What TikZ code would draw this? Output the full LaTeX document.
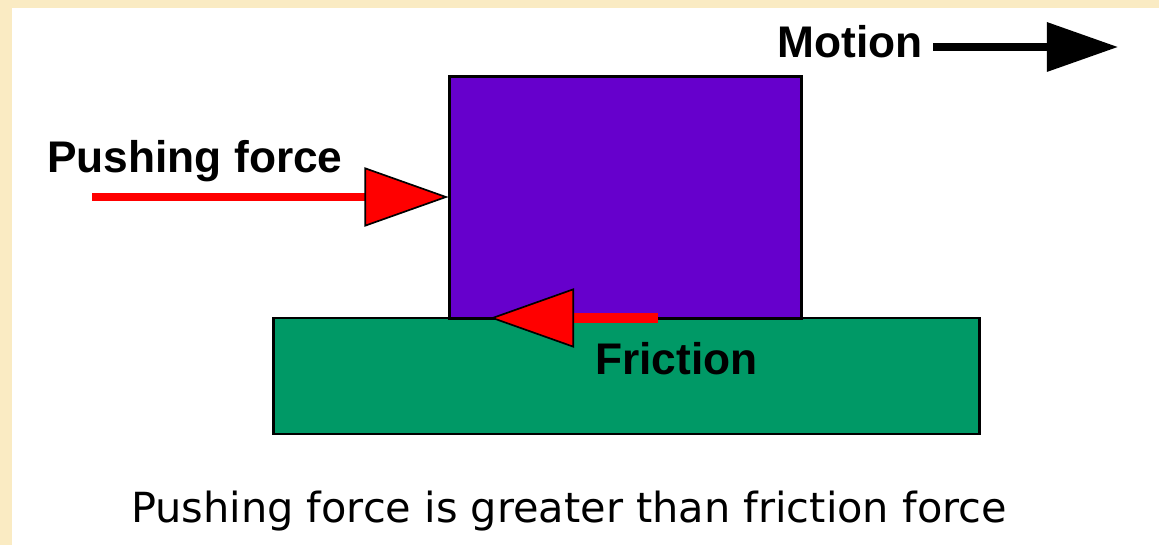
\documentclass[tikz,border=0pt]{standalone}
\usepackage{fontspec}
\setmainfont{Liberation Sans}
\newfontfamily\capfont{DejaVu Sans}
\usetikzlibrary{arrows.meta, positioning}
\definecolor{frameYellow}{HTML}{FAEBC3}
\definecolor{boxPurple}{HTML}{6600CC}
\definecolor{groundGreen}{HTML}{009966}
\definecolor{forceRed}{HTML}{FF0000}
\tikzset{
  blockbox/.style  = {draw=black, line width=2.1pt, inner sep=0pt},
  forcearrow/.style = {forceRed, line width=#1,
                       -{Triangle[length=2.1cm, width=1.48cm, color=black,
                                  fill=forceRed, line width=1.2pt]}},
  motionarrow/.style = {black, line width=5pt,
                       -{Triangle[length=1.78cm, width=1.2cm]}},
  lbl/.style       = {font=\fontsize{31.5}{36}\selectfont\bfseries,
                      inner sep=0pt, anchor=base west},
  caplbl/.style    = {font=\capfont\fontsize{29.5}{34}\selectfont,
                      inner sep=0pt, anchor=base},
}
\begin{document}
\begin{tikzpicture}[x=0.025cm, y=-0.025cm]
  \useasboundingbox (0,0) rectangle (1159,545);
  % frame strips
  \fill[frameYellow] (0,0) rectangle (1159,8);
  \fill[frameYellow] (0,0) rectangle (12,545);

  % ground and block
  \node[blockbox, fill=groundGreen, minimum width=17.625cm,
        minimum height=2.9cm] (ground) at (626.5,376) {};
  \node[blockbox, fill=boxPurple, minimum width=8.775cm,
        minimum height=6.025cm] (block) at (625.5,197.5) {};

  % forces
  \coordinate (pushstart) at (92,197);
  \coordinate (pushend) at (block.west |- pushstart);
  \draw[forcearrow=5.6pt] (pushstart) -- (pushend);

  \coordinate (fricstart) at (658,318);
  \coordinate (fricend) at (490,318);
  \draw[forcearrow=7pt] (fricstart) -- (fricend);

  % motion
  \node[lbl] (motion) at (777,58) {Motion};
  \coordinate (motionend) at (1118,47);
  \draw[motionarrow] (933,47) -- (motionend);

  % labels
  \node[lbl] (pushlbl) at (47,172) {Pushing force};
  \node[lbl] (friclbl) at (595,374) {Friction};
  \node[caplbl] (caption) at (569,522)
    {Pushing force is greater than friction force};
\end{tikzpicture}
\end{document}
